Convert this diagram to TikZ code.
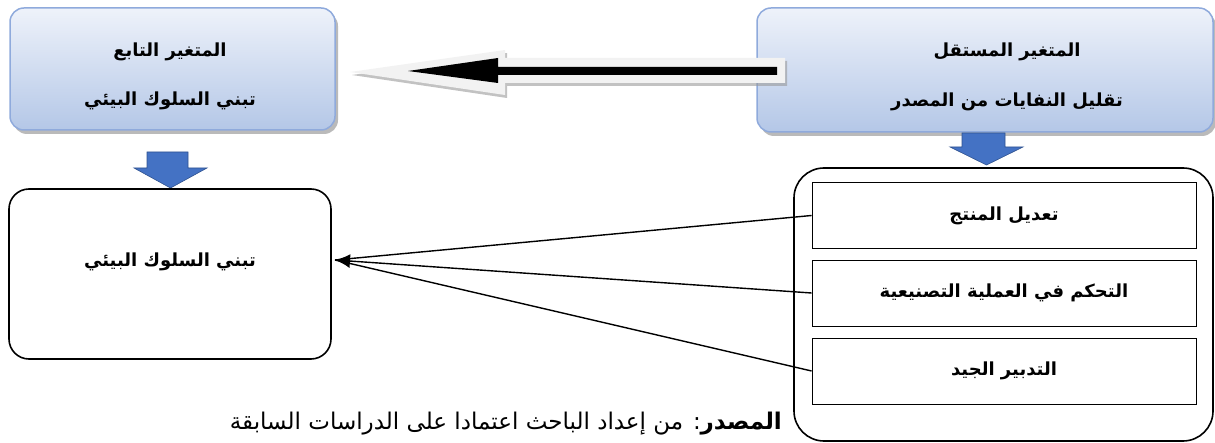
\documentclass[tikz,border=0pt]{standalone}
\usepackage{fontspec}
\newfontfamily\arabicfont[Script=Arabic]{DejaVu Sans}
\TeXXeTstate=1
\usetikzlibrary{shadows,arrows.meta}
\definecolor{boxtop}{HTML}{EEF2FA}
\definecolor{boxbot}{HTML}{B4C7E7}
\definecolor{boxline}{HTML}{8FAADC}
\definecolor{blueA}{HTML}{4472C4}
\definecolor{blueB}{HTML}{2F528F}
\definecolor{arrgray}{HTML}{F2F2F2}
\tikzset{
  varbox/.style={draw=boxline, line width=1.5pt, rounded corners=14pt,
    top color=boxtop, bottom color=boxbot,
    drop shadow={shadow xshift=3pt, shadow yshift=-4pt, fill=black!45, opacity=0.6}},
  bigbox/.style={draw=black, line width=1.6pt, rounded corners=20pt},
  itembox/.style={draw=black, line width=0.8pt, minimum width=384pt, minimum height=66pt, inner sep=0pt,
    font=\arabicfont\bfseries\fontsize{18}{20}\selectfont},
  lbl/.style={font=\arabicfont\bfseries\fontsize{18}{20}\selectfont, inner sep=0pt},
  bluearrow/.style={fill=blueA, draw=blueB, line width=0.6pt},
  conn/.style={draw=black, line width=1.4pt}
}
\begin{document}
\begin{tikzpicture}[x=1pt,y=-1pt]
\useasboundingbox (0,0) rectangle (1215,443);
% top boxes
\node[varbox, minimum width=325pt, minimum height=122pt] (tl) at (172.5,69) {};
\node[varbox, minimum width=456pt, minimum height=124pt] (tr) at (985,70) {};
\node[lbl] (tlt1) at (170,52) {\beginR المتغير التابع\endR};
\node[lbl] (tlt2) at (170,101) {\beginR تبني السلوك البيئي\endR};
\node[lbl] (trt1) at (1007,52) {\beginR المتغير المستقل\endR};
\node[lbl] (trt2) at (1007,102) {\beginR تقليل النفايات من المصدر\endR};
% big arrow
\fill[arrgray, drop shadow={shadow xshift=2pt, shadow yshift=-3pt, fill=black!40, opacity=0.6}]
  (785,58) -- (505,58) -- (505,50) -- (350,72) -- (505,95) -- (505,83) -- (785,83) -- cycle;
\fill[black] (777,67) -- (498,67) -- (498,58) -- (408,71) -- (498,83) -- (498,75) -- (777,75) -- cycle;
% blue arrows
\draw[bluearrow] (147,152) -- (188,152) -- (188,168) -- (207,168) -- (170.5,188) -- (134,168) -- (147,168) -- cycle;
\draw[bluearrow] (962,133) -- (1005,133) -- (1005,147) -- (1023,147) -- (986.5,165) -- (950,147) -- (962,147) -- cycle;
% bottom boxes
\node[bigbox, minimum width=322pt, minimum height=170pt] (lb) at (170,274) {};
\node[lbl] (lbt) at (170,262) {\beginR تبني السلوك البيئي\endR};
\node[bigbox, rounded corners=30pt, minimum width=419pt, minimum height=273pt] (rb) at (1003.5,304.5) {};
\node[itembox] (b1) at (1004,215.5) {\beginR تعديل المنتج\endR};
\node[itembox] (b2) at (1004,293) {\beginR التحكم في العملية التصنيعية\endR};
\node[itembox] (b3) at (1004,371) {\beginR التدبير الجيد\endR};
% connectors
\coordinate (conv) at (335,260);
\draw[conn] (b1.west) -- (conv);
\draw[conn] (b3.west) -- (conv);
\draw[conn, -{Latex[length=15pt,width=14pt]}] (b2.west) -- (conv);
% source
\node[font=\arabicfont\fontsize{23}{26}\selectfont, anchor=east, inner sep=0pt] (src) at (782,424)
  {\beginR{\bfseries المصدر}: من إعداد الباحث اعتمادا على الدراسات السابقة\endR};
\end{tikzpicture}
\end{document}
